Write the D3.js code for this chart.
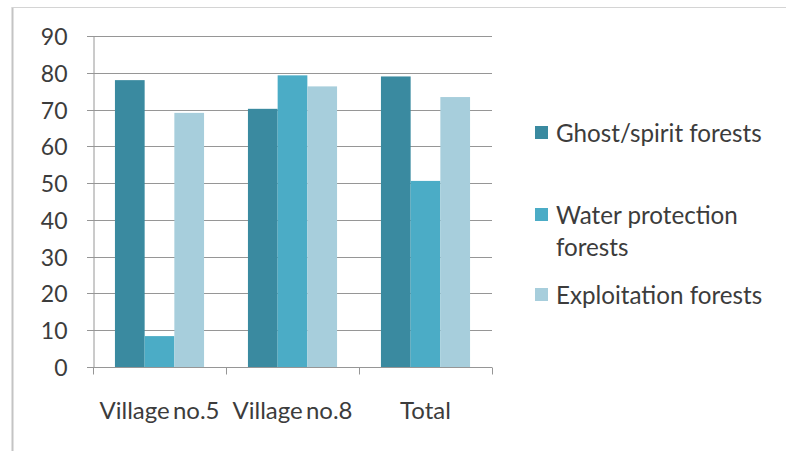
<!DOCTYPE html>
<html>
<head>
<meta charset="utf-8">
<script src="https://cdn.jsdelivr.net/npm/d3@7"></script>
<style>
  html, body { margin: 0; padding: 0; background: #fff; }
  svg text { font-family: Lato, "Open Sans", sans-serif; fill: #3c3c3c; }
</style>
</head>
<body>
<svg id="chart" width="787" height="451"></svg>
<script>
// Share of forest types by village (%)
const categories = ["Village no.5", "Village no.8", "Total"];
const seriesNames = ["Ghost/spirit forests", "Water protection forests", "Exploitation forests"];
const ghostSpirit = [78.0, 70.2, 79.0];
const waterProtection = [8.4, 79.3, 50.6];
const exploitation = [69.1, 76.3, 73.4];
const yTicks = [0, 10, 20, 30, 40, 50, 60, 70, 80, 90];
const colors = ["#3a8aa0", "#4bacc6", "#a7cedc"];

const series = [ghostSpirit, waterProtection, exploitation];

const svg = d3.select("#chart");

// outer frame
svg.append("line").attr("x1", 12.5).attr("x2", 12.5).attr("y1", 7).attr("y2", 451)
  .attr("stroke", "#c4c4c4").attr("stroke-width", 2);
svg.append("line").attr("x1", 12).attr("x2", 786).attr("y1", 7.5).attr("y2", 7.5)
  .attr("stroke", "#d4d4d4").attr("stroke-width", 1);

const plot = { left: 93, right: 492, top: 36, bottom: 367 };

const x = d3.scaleBand().domain(categories).range([plot.left, plot.right])
  .paddingInner(0.33).paddingOuter(0.165);
const xs = d3.scaleBand().domain(d3.range(series.length)).range([0, x.bandwidth()]);
const y = d3.scaleLinear().domain([0, 90]).range([plot.bottom, plot.top]);

// horizontal gridlines
svg.append("g").selectAll("line").data(yTicks.filter(d => d > 0)).join("line")
  .attr("x1", plot.left - 6).attr("x2", plot.right)
  .attr("y1", d => Math.round(y(d)) + 0.5).attr("y2", d => Math.round(y(d)) + 0.5)
  .attr("stroke", "#969696").attr("stroke-width", 1);

// bars
const groups = svg.append("g").selectAll("g").data(series).join("g")
  .attr("fill", (d, i) => colors[i]);
groups.selectAll("rect").data((d, i) => d.map((v, j) => ({ v, i, cat: categories[j] })))
  .join("rect")
  .attr("x", d => x(d.cat) + xs(d.i))
  .attr("width", xs.bandwidth())
  .attr("y", d => y(d.v))
  .attr("height", d => y(0) - y(d.v));

// y axis
const yAxis = d3.axisLeft(y).tickValues(yTicks).tickSize(6).tickPadding(20);
const gy = svg.append("g").attr("transform", `translate(${plot.left + 0.5},0)`).call(yAxis);
gy.select(".domain").attr("stroke", "#969696");
gy.selectAll(".tick line").attr("stroke", "#969696");
gy.selectAll(".tick text").style("font-size", "23px").attr("fill", "#3c3c3c").attr("dy", "0.36em");
gy.selectAll(".tick").attr("transform", d => `translate(0,${Math.round(y(d)) + 0.5})`);

// x axis baseline with boundary ticks
const gx = svg.append("g").attr("transform", `translate(0,${plot.bottom + 0.5})`);
gx.append("line").attr("x1", plot.left - 6).attr("x2", plot.right)
  .attr("stroke", "#969696");
const boundaries = [plot.left].concat(categories.map(c => x(c) + x.bandwidth() + x.step() * x.paddingInner() / 2));
boundaries[boundaries.length - 1] = plot.right;
gx.selectAll(".bt").data(boundaries).join("line").attr("class", "bt")
  .attr("x1", d => Math.round(d) + 0.5).attr("x2", d => Math.round(d) + 0.5)
  .attr("y1", 0).attr("y2", 7).attr("stroke", "#969696");
gx.selectAll("text").data(categories).join("text")
  .attr("x", d => x(d) + x.bandwidth() / 2)
  .attr("y", 51)
  .attr("text-anchor", "middle")
  .style("font-size", "24px")
  .style("word-spacing", "-3px")
  .text(d => d);

// legend
const legendRows = [
  { lines: ["Ghost/spirit forests"], y: 133 },
  { lines: ["Water protection", "forests"], y: 215 },
  { lines: ["Exploitation forests"], y: 295 }
];
const lg = svg.append("g");
legendRows.forEach((r, i) => {
  lg.append("rect").attr("x", 535).attr("y", r.y - 7).attr("width", 13).attr("height", 13)
    .attr("fill", colors[i]);
  r.lines.forEach((t, k) => {
    lg.append("text").attr("x", 556).attr("y", r.y + k * 32)
      .attr("dy", "0.36em").style("font-size", "24.2px").text(t);
  });
});
</script>
</body>
</html>
